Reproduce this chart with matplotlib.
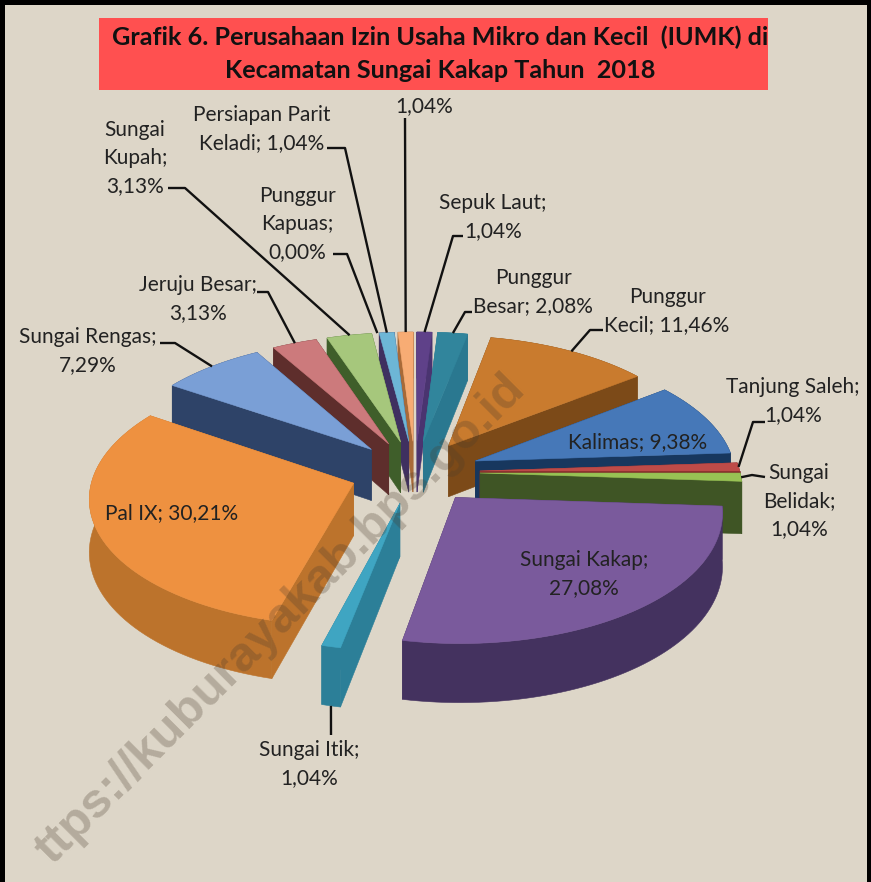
import numpy as np
import matplotlib
matplotlib.use("Agg")
import matplotlib.pyplot as plt
from matplotlib.patches import Polygon, Rectangle

# ---- data ----
categories = ["Sepuk Laut", "Punggur Besar", "Punggur Kecil", "Kalimas", "Tanjung Saleh",
              "Sungai Belidak", "Sungai Kakap", "Sungai Itik", "Pal IX", "Sungai Rengas",
              "Jeruju Besar", "Sungai Kupah", "Punggur Kapuas", "Persiapan Parit Keladi", ""]
values = [1.04, 2.08, 11.46, 9.38, 1.04, 1.04, 27.08, 1.04, 30.21, 7.29, 3.13, 3.13, 0.00, 1.04, 1.04]
top_colors = ["#5F4189", "#31859C", "#C97B2E", "#4678B8", "#BE4B48", "#98C254", "#7A5A9C", "#3FA5C2",
              "#EE9140", "#7A9FD6", "#CC7A7C", "#A6C77C", "#8064A2", "#6DB6D6", "#F7AC74"]
side_colors = ["#4A3470", "#2A7890", "#7C4A18", "#17375E", "#7E2A28", "#3F5525", "#44325F", "#2C7F98",
               "#BC732C", "#2E4368", "#5E2E2C", "#3F5E2A", "#4F3A70", "#3F3060", "#A86A38"]
labels = {"Sepuk Laut": "Sepuk Laut;\n1,04%", "Punggur Besar": "Punggur\nBesar; 2,08%",
          "Punggur Kecil": "Punggur\nKecil; 11,46%", "Kalimas": "Kalimas; 9,38%",
          "Tanjung Saleh": "Tanjung Saleh;\n1,04%", "Sungai Belidak": "Sungai\nBelidak;\n1,04%",
          "Sungai Kakap": "Sungai Kakap;\n27,08%", "Sungai Itik": "Sungai Itik;\n1,04%",
          "Pal IX": "Pal IX; 30,21%", "Sungai Rengas": "Sungai Rengas;\n7,29%",
          "Jeruju Besar": "Jeruju Besar;\n3,13%", "Sungai Kupah": "Sungai\nKupah;\n3,13%",
          "Punggur Kapuas": "Punggur\nKapuas;\n0,00%",
          "Persiapan Parit Keladi": "Persiapan Parit\nKeladi; 1,04%", "": "1,04%"}
title_text = "Grafik 6. Perusahaan Izin Usaha Mikro dan Kecil  (IUMK) di\nKecamatan Sungai Kakap Tahun  2018"
watermark = "ttps://kuburayakab.bps.go.id"

# ---- layout (pixel space of the figure) ----
W, H = 871, 882
CX, CY, RX, RY, PERSP, DEPTH, EXPLODE = 415, 472, 260, 126, 0.10, 52, 0.25
label_pos = {"Sepuk Laut": (493, 217), "Punggur Besar": (533, 292), "Punggur Kecil": (667, 311),
             "Kalimas": (638, 442), "Tanjung Saleh": (793, 401), "Sungai Belidak": (799, 501),
             "Sungai Kakap": (584, 574), "Sungai Itik": (309, 764), "Pal IX": (172, 513),
             "Sungai Rengas": (88, 351), "Jeruju Besar": (198, 299), "Sungai Kupah": (135, 158),
             "Punggur Kapuas": (297, 224), "Persiapan Parit Keladi": (262, 129), "": (424, 106)}
elbows = {"Sepuk Laut": [(463, 236), (453, 236)], "Punggur Besar": [(472, 312), (465, 312)],
          "Punggur Kecil": [(603, 330), (590, 330)], "Tanjung Saleh": [(765, 422), (753, 422)],
          "Sungai Belidak": [(765, 477), (752, 475)], "Sungai Itik": [(331, 735)],
          "Sungai Rengas": [(160, 343), (175, 343)], "Jeruju Besar": [(257, 292), (268, 292)],
          "Sungai Kupah": [(168, 188), (185, 188)], "Punggur Kapuas": [(333, 254), (347, 254)],
          "Persiapan Parit Keladi": [(327, 148), (345, 148)], "": [(405, 118)]}

plt.rcParams["font.family"] = ["Lato", "DejaVu Sans"]
fig = plt.figure(figsize=(W / 100, H / 100), dpi=100, facecolor="black")
ax = fig.add_axes([0, 0, 1, 1])
ax.set_xlim(0, W)
ax.set_ylim(H, 0)
ax.axis("off")
ax.add_patch(Rectangle((5, 5), W - 9, H, facecolor="#DDD6C8", edgecolor="none", zorder=0))
ax.add_patch(Rectangle((99, 18), 669, 72, facecolor="#FF5050", edgecolor="none", zorder=1))
ax.text(440, 54, title_text, ha="center", va="center", fontsize=18.2, fontweight="bold",
        color="#111111", linespacing=1.5, zorder=2)


def project(u, v, drop=0.0):
    w = 1.0 / (1.0 + PERSP * v)
    return np.column_stack((CX + RX * u * w, CY + (-RY * v + drop) * w))


vals = np.array(values)
edges = np.concatenate(([0.0], np.cumsum(vals))) / vals.sum() * 2 * np.pi
mids = (edges[:-1] + edges[1:]) / 2


def slice_geometry(i):
    du, dv = EXPLODE * np.sin(mids[i]), EXPLODE * np.cos(mids[i])
    t = np.linspace(edges[i], edges[i + 1], 60)
    return du, dv, np.sin(t) + du, np.cos(t) + dv


order = np.argsort(-np.cos(mids))
for i in order:
    if vals[i] == 0:
        continue
    du, dv, au, av = slice_geometry(i)
    z = 10 + 2 * list(order).index(i)
    apex_t = project(np.array([du]), np.array([dv]))
    apex_b = project(np.array([du]), np.array([dv]), DEPTH)
    arc_t, arc_b = project(au, av), project(au, av, DEPTH)
    polys = [np.vstack((apex_t, arc_t[:1], arc_b[:1], apex_b)),
             np.vstack((apex_t, arc_t[-1:], arc_b[-1:], apex_b)),
             np.vstack((arc_t, arc_b[::-1]))]
    for p in polys:
        ax.add_patch(Polygon(p, closed=True, facecolor=side_colors[i], edgecolor=side_colors[i],
                             lw=0.4, zorder=z))
    ax.add_patch(Polygon(np.vstack((apex_t, arc_t)), closed=True, facecolor=top_colors[i],
                         edgecolor=top_colors[i], lw=0.4, zorder=z + 1))

# leader lines end on the projected outer edge of each slice
for i, name in enumerate(categories):
    if name not in elbows:
        continue
    du, dv, au, av = slice_geometry(i)
    drop = DEPTH if name == "Sungai Itik" else 0.0
    end = project(au[30:31], av[30:31], drop)
    pts = np.vstack((np.array(elbows[name]), end))
    ax.plot(pts[:, 0], pts[:, 1], color="#111111", lw=1.7, zorder=60, solid_capstyle="butt")

for name, (x, y) in label_pos.items():
    ax.text(x, y, labels[name], ha="center", va="center", fontsize=15, color="#222222",
            linespacing=1.5, zorder=70)

ax.text(281, 620, watermark, rotation=45, rotation_mode="anchor", ha="center", va="center",
        fontsize=35.5, fontweight="bold", family="Liberation Sans", color="#4A3C2C", alpha=0.28, zorder=80)

fig.savefig("out.png", dpi=100, facecolor="black")
